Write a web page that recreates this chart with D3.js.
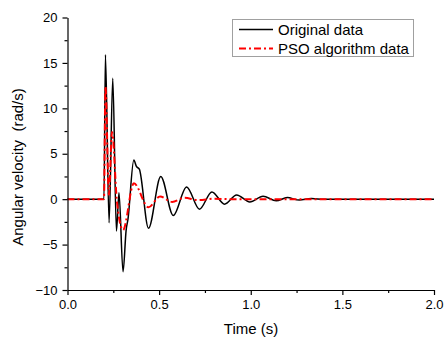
<!DOCTYPE html>
<html>
<head>
<meta charset="utf-8">
<script src="https://cdn.jsdelivr.net/npm/d3@7"></script>
<style>
  body { margin: 0; background: #fff; }
  text { font-family: "Liberation Sans", Arial, sans-serif; }
</style>
</head>
<body>
<script>
// original (black) curve, key points
var origTime = [0, 0.199, 0.207, 0.227, 0.247, 0.267, 0.281, 0.303, 0.320, 0.330, 0.362, 0.376, 0.392, 0.442,
  0.509, 0.577, 0.650, 0.720, 0.788, 0.857, 0.923, 0.995, 1.067, 1.139, 1.199, 1.265, 1.33, 1.40, 2.0];
var origVel = [0, 0, 15.9, -2.6, 13.3, -3.5, 0.7, -8.0, -3.4, -2.2, 4.3, 3.6, 3.3, -3.2,
  2.5, -1.8, 1.35, -1.1, 0.8, -0.55, 0.47, -0.3, 0.33, -0.18, 0.17, -0.1, 0.06, 0, 0];

// PSO (red) curve
var psoTime = [0, 0.199, 0.207, 0.226, 0.243, 0.270, 0.303, 0.362, 0.442, 0.505, 0.571, 0.64, 0.71, 0.80, 0.9, 2.0];
var psoVel = [0, 0, 12.4, 0.5, 7.4, -0.3, -3.4, 1.75, -0.9, 0.3, -0.3, 0.15, -0.1, 0.05, 0, 0];

var xTicks = [0, 0.5, 1.0, 1.5, 2.0];
var xMinor = [0.25, 0.75, 1.25, 1.75];
var yTicks = [-10, -5, 0, 5, 10, 15, 20];
var yMinor = [-7.5, -2.5, 2.5, 7.5, 12.5, 17.5];
var seriesNames = ["Original data", "PSO algorithm data"];

var width = 446, height = 338;
var svg = d3.select("body").append("svg")
  .attr("width", width)
  .attr("height", height);

var x = d3.scaleLinear().domain([0, 2]).range([67.5, 434]);
var y = d3.scaleLinear().domain([-10, 20]).range([290, 17.5]);

function pts(t, v) { return t.map(function(d, i) { return [d, v[i]]; }); }

var line = d3.line()
  .x(function(d) { return x(d[0]); })
  .y(function(d) { return y(d[1]); })
  .curve(d3.curveMonotoneX);

svg.append("path")
  .datum(pts(origTime, origVel))
  .attr("d", line)
  .attr("fill", "none")
  .attr("stroke", "#000")
  .attr("stroke-width", 1.5);

svg.append("path")
  .datum(pts(psoTime, psoVel))
  .attr("d", line)
  .attr("fill", "none")
  .attr("stroke", "#ff0000")
  .attr("stroke-width", 2)
  .attr("stroke-dasharray", "7,3,2,3");

// axes
svg.append("g")
  .attr("transform", "translate(0,290)")
  .call(d3.axisBottom(x).tickValues(xTicks).tickSize(5).tickSizeOuter(0)
    .tickFormat(d3.format(".1f")).tickPadding(5));
svg.append("g")
  .attr("transform", "translate(0,290)")
  .call(d3.axisBottom(x).tickValues(xMinor).tickSize(3).tickSizeOuter(0).tickFormat(""))
  .select(".domain").remove();

svg.append("g")
  .attr("transform", "translate(67.5,0)")
  .call(d3.axisLeft(y).tickValues(yTicks).tickSize(5).tickSizeOuter(0).tickPadding(5));
svg.append("g")
  .attr("transform", "translate(67.5,0)")
  .call(d3.axisLeft(y).tickValues(yMinor).tickSize(3).tickSizeOuter(0).tickFormat(""))
  .select(".domain").remove();

svg.selectAll(".tick text")
  .attr("font-size", 13)
  .attr("font-family", "Liberation Sans, Arial, sans-serif")
  .attr("fill", "#000");
svg.selectAll(".domain, .tick line").attr("stroke", "#000").attr("stroke-width", 1.2);

// axis titles
svg.append("text")
  .attr("x", 251)
  .attr("y", 334)
  .attr("text-anchor", "middle")
  .attr("font-size", 15)
  .text("Time (s)");

svg.append("text")
  .attr("transform", "translate(23,167) rotate(-90)")
  .attr("text-anchor", "middle")
  .attr("font-size", 15)
  .style("white-space", "pre")
  .text("Angular velocity  (rad/s)");

// legend
var lg = svg.append("g");
lg.append("rect")
  .attr("x", 232.5).attr("y", 19.5)
  .attr("width", 181).attr("height", 37)
  .attr("fill", "#fff")
  .attr("stroke", "#a0a0a0")
  .attr("stroke-width", 1);

var legendStyles = [
  { color: "#000", dash: null, w: 1.5 },
  { color: "#ff0000", dash: "7,3,2,3", w: 2 }
];
seriesNames.forEach(function(name, i) {
  var ly = 29.5 + i * 19;
  lg.append("line")
    .attr("x1", 239).attr("x2", 273)
    .attr("y1", ly).attr("y2", ly)
    .attr("stroke", legendStyles[i].color)
    .attr("stroke-width", legendStyles[i].w)
    .attr("stroke-dasharray", legendStyles[i].dash);
  lg.append("text")
    .attr("x", 278)
    .attr("y", ly + 5)
    .attr("font-size", 15)
    .text(name);
});
</script>
</body>
</html>
